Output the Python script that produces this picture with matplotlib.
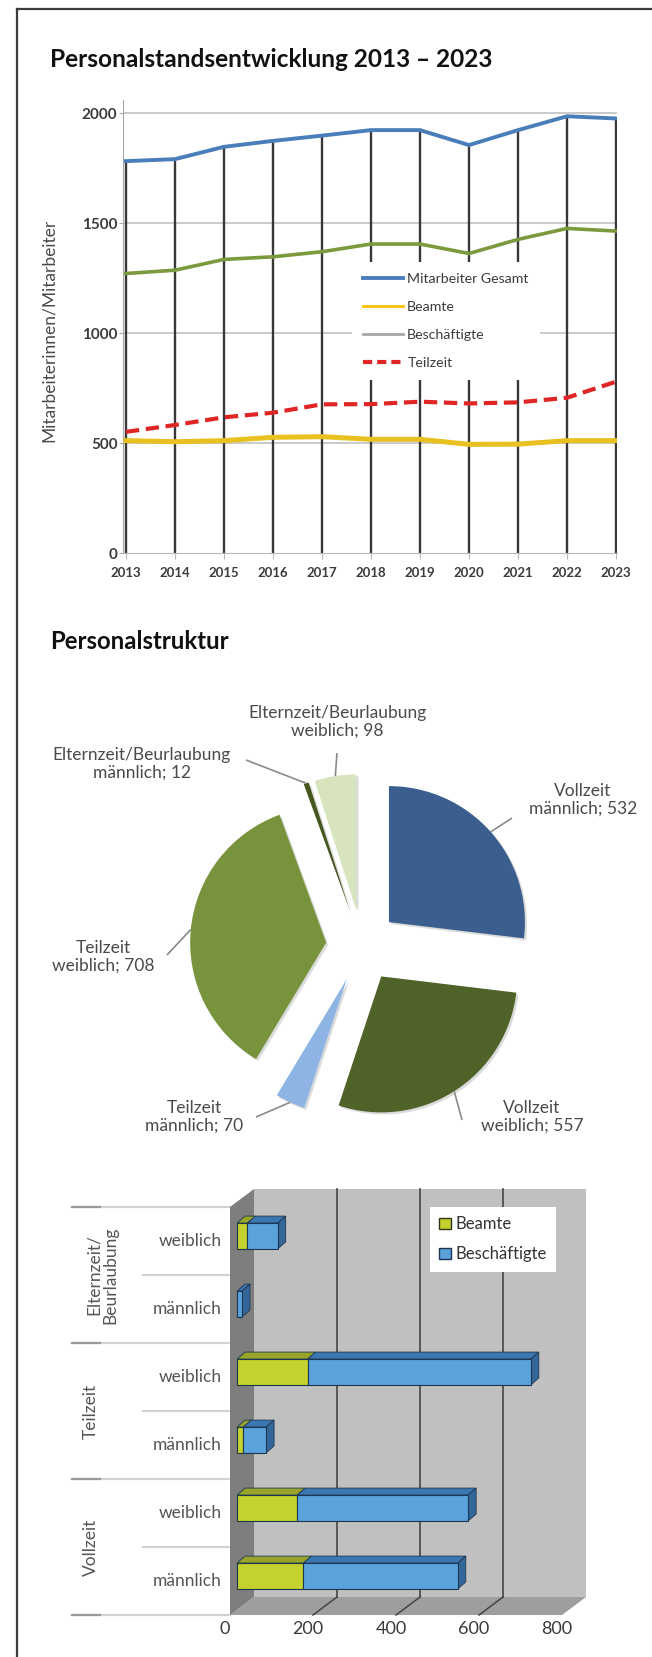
import matplotlib
matplotlib.use("Agg")
import matplotlib.pyplot as plt
from matplotlib.lines import Line2D
from matplotlib.patches import Patch
import matplotlib.patheffects as pe
import numpy as np

plt.rcParams['font.family'] = ['Lato', 'DejaVu Sans']

# ---------------- data ----------------
years = [2013, 2014, 2015, 2016, 2017, 2018, 2019, 2020, 2021, 2022, 2023]
gesamt = [1782, 1791, 1847, 1874, 1898, 1923, 1923, 1855, 1923, 1986, 1976]
beschaeftigte = [1271, 1286, 1335, 1347, 1370, 1405, 1405, 1362, 1426, 1476, 1464]
beamte = [511, 506, 511, 526, 529, 517, 517, 494, 495, 511, 511]
teilzeit = [551, 582, 617, 638, 676, 677, 688, 680, 685, 706, 779]
line_yticks = [0, 500, 1000, 1500, 2000]
line_legend = ["Mitarbeiter Gesamt", "Beamte", "Beschäftigte", "Teilzeit"]

pie_names = ["Vollzeit\nmännlich", "Vollzeit\nweiblich", "Teilzeit\nmännlich",
             "Teilzeit\nweiblich", "Elternzeit/Beurlaubung\nmännlich",
             "Elternzeit/Beurlaubung\nweiblich"]
pie_values = [532, 557, 70, 708, 12, 98]

bar_groups = ["Vollzeit", "Teilzeit", "Elternzeit/\nBeurlaubung"]
bar_sub = ["männlich", "weiblich", "männlich", "weiblich", "männlich", "weiblich"]
bar_beamte = [160, 145, 15, 170, 0, 25]
bar_besch = [372, 412, 55, 538, 12, 73]
bar_ticks = [0, 200, 400, 600, 800]
bar_legend = ["Beamte", "Beschäftigte"]

# ---------------- figure ----------------
W, H = 652, 1657
fig = plt.figure(figsize=(W / 100, H / 100), dpi=100)
fig.patch.set_facecolor("white")


def ax_px(x0, y0, x1, y1):
    return fig.add_axes([x0 / W, 1 - y1 / H, (x1 - x0) / W, (y1 - y0) / H])


def ftext(x, y, s, **kw):
    return fig.text(x / W, 1 - y / H, s, **kw)


# page frame
fig.add_artist(Line2D([17 / W, 17 / W], [1 - 9 / H, 0], color="#3c3c3c", lw=1.6))
fig.add_artist(Line2D([17 / W, 1], [1 - 9 / H, 1 - 9 / H], color="#3c3c3c", lw=1.6))

# titles
ftext(50, 67, "Personalstandsentwicklung 2013 – 2023", fontsize=17.6, fontweight="bold",
      color="#111111", va="baseline", ha="left")
ftext(50, 649, "Personalstruktur", fontsize=17.2, fontweight="bold",
      color="#111111", va="baseline", ha="left")

# ---------------- line chart ----------------
ax1 = ax_px(123, 100, 617, 553)
ax1.set_xlim(2012.94, 2023.02)
ax1.set_ylim(0, 2060)
for yv in line_yticks[1:]:
    ax1.axhline(yv, color="#C6C6C6", lw=1.3, zorder=1)
ax1.vlines(years, 0, gesamt, color="#383838", lw=1.7, zorder=2)
c_ges, c_bea, c_bes, c_tz = "#4A7EBB", "#E8C020", "#7B9A3E", "#E02525"
ax1.plot(years, gesamt, color=c_ges, lw=2.8, zorder=4, solid_joinstyle="round")
ax1.plot(years, beschaeftigte, color=c_bes, lw=2.6, zorder=4, solid_joinstyle="round")
ax1.plot(years, beamte, color=c_bea, lw=3.6, zorder=4, solid_joinstyle="round")
ax1.plot(years, teilzeit, color=c_tz, lw=3.0, zorder=4, ls=(0, (3.2, 1.6)))
for s in ("top", "right"):
    ax1.spines[s].set_visible(False)
ax1.spines["left"].set_color("#A8A8A8")
ax1.spines["bottom"].set_color("#B8B8B8")
ax1.set_yticks(line_yticks)
ax1.set_xticks(years)
ax1.tick_params(axis="y", length=3, color="#A8A8A8", pad=1, labelsize=11,
                labelcolor="#3c3c3c")
ax1.tick_params(axis="x", length=4, color="#B8B8B8", pad=6, labelsize=9.5,
                labelcolor="#3c3c3c")
for t in ax1.get_yticklabels() + ax1.get_xticklabels():
    t.set_fontweight("bold")
ftext(49, 330, "Mitarbeiterinnen/Mitarbeiter", rotation=90, fontsize=12.5,
      color="#4a4a4a", ha="center", va="center")
handles = [Line2D([], [], color=c_ges, lw=2.8),
           Line2D([], [], color="#FFC000", lw=2.0),
           Line2D([], [], color="#A8A8A8", lw=2.0),
           Line2D([], [], color=c_tz, lw=3.0, ls=(0, (2.2, 1.2)))]
leg = ax1.legend(handles, line_legend, loc="upper left",
                 bbox_to_anchor=(352 / W, 1 - 262 / H), bbox_transform=fig.transFigure,
                 frameon=True, facecolor="white", edgecolor="none", framealpha=1,
                 fancybox=False, borderpad=0.8, handlelength=2.8, handletextpad=0.3,
                 labelspacing=1.12, fontsize=10.2, borderaxespad=0)
for t in leg.get_texts():
    t.set_color("#3c3c3c")
leg.set_zorder(10)

# ---------------- pie chart ----------------
ax2 = ax_px(20, 680, 652, 1160)
pie_colors = ["#3A5F8E", "#4F6228", "#8DB4E2", "#77933C", "#46561F", "#D7E4BD"]
R = 136
wedges, _ = ax2.pie(pie_values, colors=pie_colors, startangle=90, counterclock=False,
                    explode=[36] * len(pie_values), radius=R, center=(362, -946),
                    wedgeprops=dict(linewidth=0))
for w in wedges:
    w.set_path_effects([pe.SimplePatchShadow(offset=(1.5, -1.5), shadow_rgbFace="#9a9a9a",
                                             alpha=0.35), pe.Normal()])
ax2.set_xlim(20, 652)
ax2.set_ylim(-1160, -680)
ax2.set_aspect("auto")
ax2.axis("off")

# label centers and leader end points (pixel layout)
lab_pos = [(583, 800), (532, 1117), (194, 1117), (103, 957), (142, 764), (337, 722)]
lead_end = [(512, 818), (462, 1120), (256, 1117), (167, 955), (246, 760), (337, 753)]
for w, name, val, (lx, ly), (ex, ey) in zip(wedges, pie_names, pie_values, lab_pos, lead_end):
    mid = np.deg2rad((w.theta1 + w.theta2) / 2)
    px = w.center[0] + w.r * np.cos(mid)
    py = w.center[1] + w.r * np.sin(mid)
    ax2.plot([px, ex], [py, -ey], color="#8a8a8a", lw=1.2, solid_capstyle="butt")
    ax2.text(lx, -ly, f"{name}; {val}", ha="center", va="center", fontsize=12.5,
             color="#4a4a4a", linespacing=1.1, multialignment="center")

# ---------------- 3D-style bar chart ----------------
k = 0.415       # px per value unit
cpx = 68.0      # px per category
X0, C0 = 237, 1576
ax3 = ax_px(40, 1180, 640, 1650)
ax3.set_xlim((40 - X0) / k, (640 - X0) / k)
ax3.set_ylim((C0 - 1650) / cpx, (C0 - 1180) / cpx)
ax3.axis("off")


def off(pxo, pyo):
    return pxo / k, -pyo / cpx


Fx, Fy = off(-7, 5)     # front plane
Bx, By = off(17, -13)   # back plane
Dx, Dy = off(8, -7)     # bar depth
cats = np.arange(len(bar_sub))
vmax = bar_ticks[-1]
lo, hi = -0.5, len(bar_sub) - 0.5

# back wall
ax3.fill([0 + Bx, vmax + Bx, vmax + Bx, 0 + Bx], [lo + By, lo + By, hi + By, hi + By],
         color="#C0C0C0", zorder=1, lw=0)
for v in bar_ticks[1:-1]:
    ax3.plot([v + Bx, v + Bx], [lo + By, hi + By], color="#444444", lw=1.2, zorder=2)
# floor
ax3.fill([0 + Fx, vmax + Fx, vmax + Bx, 0 + Bx], [lo + Fy, lo + Fy, lo + By, lo + By],
         color="#9E9E9E", zorder=1.5, lw=0)
for v in bar_ticks[1:-1]:
    ax3.plot([v + Fx, v + Bx], [lo + Fy, lo + By], color="#444444", lw=1.1, zorder=2)
# left side wall
ax3.fill([0 + Fx, 0 + Fx, 0 + Bx, 0 + Bx], [lo + Fy, hi + Fy, hi + By, lo + By],
         color="#7E7E7E", zorder=2.5, lw=0)

bh = 0.38
c_b1, c_b1t = "#C4D12F", "#98A52A"
c_b2, c_b2t, c_b2s = "#5AA2DC", "#3B77B0", "#33679A"
edge = "#1E3550"
ax3.barh(cats, bar_beamte, height=bh, color=c_b1, edgecolor=edge, lw=0.8, zorder=5)
ax3.barh(cats, bar_besch, left=bar_beamte, height=bh, color=c_b2, edgecolor=edge,
         lw=0.8, zorder=5)
for c, b1, b2 in zip(cats, bar_beamte, bar_besch):
    top = c + bh / 2
    if b1 > 0:
        ax3.fill([0, b1, b1 + Dx, 0 + Dx], [top, top, top + Dy, top + Dy],
                 color=c_b1t, ec=edge, lw=0.6, zorder=4)
    ax3.fill([b1, b1 + b2, b1 + b2 + Dx, b1 + Dx], [top, top, top + Dy, top + Dy],
             color=c_b2t, ec=edge, lw=0.6, zorder=4)
    end = b1 + b2
    ax3.fill([end, end + Dx, end + Dx, end], [c - bh / 2, c - bh / 2 + Dy, top + Dy, top],
             color=c_b2s, ec=edge, lw=0.6, zorder=4)

# category label area
lab_x = (222 - X0) / k
for c, s in zip(cats, bar_sub):
    ax3.text(lab_x, c + Fy, s, ha="right", va="center", fontsize=12.5, color="#555555")
grp_left = (72 - X0) / k
sub_left = (143 - X0) / k
wall_x = 0 + Fx
for i in range(len(bar_sub) + 1):
    yb = lo + i + Fy
    if i % 2 == 0:
        ax3.plot([grp_left, wall_x], [yb, yb], color="#D2D2D2", lw=1.6, zorder=1)
        ax3.plot([grp_left, (100 - X0) / k], [yb, yb], color="#9A9A9A", lw=1.6, zorder=1.1)
    else:
        ax3.plot([sub_left, wall_x], [yb, yb], color="#D2D2D2", lw=1.6, zorder=1)
grp_x = [(91 - X0) / k, (91 - X0) / k, (102 - X0) / k]
for g, (name, gx) in enumerate(zip(bar_groups, grp_x)):
    ax3.text(gx, 2 * g + 0.5 + Fy, name, rotation=90, ha="center", va="center",
             fontsize=12.5, color="#555555", linespacing=1.05, multialignment="center")
# value axis labels
tick_y = (C0 - 1629) / cpx
for v in bar_ticks:
    ax3.text(v + Fx - 5 / k, tick_y, f"{v}", ha="center", va="center", fontsize=13,
             color="#3a3a3a")
bleg = ax3.legend([Patch(facecolor=c_b1, edgecolor="#2b3618", lw=1.0),
                   Patch(facecolor=c_b2, edgecolor=edge, lw=1.0)], bar_legend,
                  loc="upper left", bbox_to_anchor=(430 / W, 1 - 1207 / H),
                  bbox_transform=fig.transFigure, frameon=True, facecolor="white",
                  edgecolor="none", framealpha=1, fancybox=False, borderpad=0.55,
                  handlelength=0.7, handleheight=0.7, handletextpad=0.3,
                  labelspacing=0.85, fontsize=12, borderaxespad=0)
for t in bleg.get_texts():
    t.set_color("#333333")
bleg.set_zorder(10)

fig.savefig("out.png", dpi=100, facecolor="white")
